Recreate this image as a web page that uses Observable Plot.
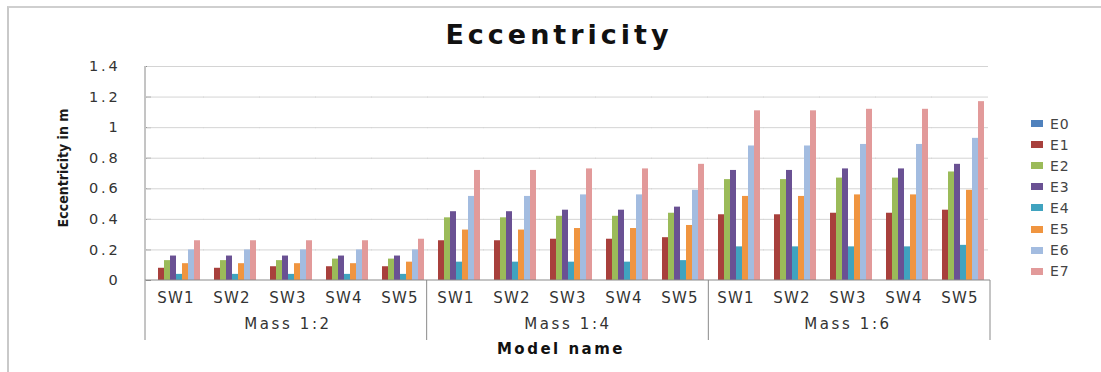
<!DOCTYPE html>
<html>
<head>
<meta charset="utf-8">
<script src="https://cdn.jsdelivr.net/npm/d3@7"></script>
<script src="https://cdn.jsdelivr.net/npm/@observablehq/plot@0.6"></script>
<style>
  body { margin: 0; background: #fff; }
  #wrap { position: relative; width: 1101px; height: 372px; overflow: hidden; font-family: "DejaVu Sans", sans-serif; }
  #border { position: absolute; left: 7px; top: 6px; width: 1200px; height: 400px; border-left: 2px solid #c9c9c9; border-top: 2px solid #cfcfcf; }
  #title { position: absolute; top: 19px; left: 0; width: 1118px; text-align: center; font: bold 27px "DejaVu Sans", sans-serif; letter-spacing: 4px; color: #111; }
  #ylabel { position: absolute; left: 63px; top: 168px; transform: translate(-50%, -50%) rotate(-90deg); white-space: nowrap; font: 600 14px "DejaVu Sans Condensed", "DejaVu Sans", sans-serif; font-stretch: condensed; color: #1a1a1a; }
  #xlabel { position: absolute; top: 340px; left: 0; width: 1122px; text-align: center; font: bold 15px "DejaVu Sans", sans-serif; letter-spacing: 2.5px; color: #111; }
  #chart { position: absolute; left: 0; top: 0; }
  #legend { position: absolute; left: 1031px; top: 113px; }
  .item { display: flex; align-items: center; height: 21.1px; font: 14px "DejaVu Sans", sans-serif; color: #444; letter-spacing: 1px; }
  .sw { width: 12px; height: 7px; margin-right: 7px; }
  #chart svg [aria-label="y-axis tick label"] text { letter-spacing: 2.8px; }
  #chart svg [aria-label="fx-axis tick label"] text { letter-spacing: 1.2px; }
  #chart svg [aria-label="text"] text { letter-spacing: 2.6px; }
</style>
</head>
<body>
<div id="wrap">
  <div id="border"></div>
  <div id="title">Eccentricity</div>
  <div id="ylabel">Eccentricity in m</div>
  <div id="chart"></div>
  <div id="xlabel">Model name</div>
  <div id="legend"></div>
</div>
<script>
// Categories
const groups = ["Mass 1:2", "Mass 1:4", "Mass 1:6"];
const walls = ["SW1", "SW2", "SW3", "SW4", "SW5"];
const series = ["E0", "E1", "E2", "E3", "E4", "E5", "E6", "E7"];
const colors = ["#4F81BD", "#A8403C", "#9BBB59", "#6A5193", "#40A3BF", "#F09540", "#A3BCE0", "#E29A9A"];
const yTicks = [0, 0.2, 0.4, 0.6, 0.8, 1, 1.2, 1.4];

// Eccentricity (m) per series: SW1..SW5 for Mass 1:2, then Mass 1:4, then Mass 1:6
const e0 = [0, 0, 0, 0, 0,   0, 0, 0, 0, 0,   0, 0, 0, 0, 0];
const e1 = [0.08, 0.08, 0.09, 0.09, 0.09,   0.26, 0.26, 0.27, 0.27, 0.28,   0.43, 0.43, 0.44, 0.44, 0.46];
const e2 = [0.13, 0.13, 0.13, 0.14, 0.14,   0.41, 0.41, 0.42, 0.42, 0.44,   0.66, 0.66, 0.67, 0.67, 0.71];
const e3 = [0.16, 0.16, 0.16, 0.16, 0.16,   0.45, 0.45, 0.46, 0.46, 0.48,   0.72, 0.72, 0.73, 0.73, 0.76];
const e4 = [0.04, 0.04, 0.04, 0.04, 0.04,   0.12, 0.12, 0.12, 0.12, 0.13,   0.22, 0.22, 0.22, 0.22, 0.23];
const e5 = [0.11, 0.11, 0.11, 0.11, 0.12,   0.33, 0.33, 0.34, 0.34, 0.36,   0.55, 0.55, 0.56, 0.56, 0.59];
const e6 = [0.20, 0.20, 0.20, 0.20, 0.20,   0.55, 0.55, 0.56, 0.56, 0.59,   0.88, 0.88, 0.89, 0.89, 0.93];
const e7 = [0.26, 0.26, 0.26, 0.26, 0.27,   0.72, 0.72, 0.73, 0.73, 0.76,   1.11, 1.11, 1.12, 1.12, 1.17];
const values = [e0, e1, e2, e3, e4, e5, e6, e7];

// One facet per (group, wall) model
const keys = groups.flatMap(g => walls.map(w => `${g}|${w}`));
const rows = [];
keys.forEach((k, i) => series.forEach((s, j) => rows.push({key: k, series: s, value: values[j][i]})));
const groupLabels = groups.map(g => ({key: `${g}|SW3`, label: g}));

const chart = Plot.plot({
  width: 1101,
  height: 372,
  marginTop: 66,
  marginBottom: 92,
  marginLeft: 145,
  marginRight: 111,
  style: {fontFamily: "DejaVu Sans, sans-serif", fontSize: "13px", color: "#333", background: "transparent", overflow: "visible"},
  fx: {domain: keys, paddingInner: 0.13, paddingOuter: 0.065, axis: "bottom", tickFormat: k => k.split("|")[1], tickSize: 0, tickPadding: 12, label: null},
  x: {domain: series, padding: 0, axis: null},
  y: {domain: [0, 1.4], ticks: yTicks, tickFormat: d => String(+d.toFixed(1)), tickSize: 5, tickPadding: 26, label: null},
  color: {domain: series, range: colors},
  marks: [
    Plot.ruleY(yTicks.filter(d => d > 0), {stroke: "#d4d4d4", insetLeft: -4, insetRight: -4}),
    Plot.barY(rows, {fx: "key", x: "series", y: "value", fill: "series"}),
    Plot.text(groupLabels, {fx: "key", text: "label", frameAnchor: "bottom", dy: 48, fontSize: 15, fill: "#333"})
  ]
});
document.getElementById("chart").append(chart);

// Axis lines and group separators, placed with the plot's own scales
const svg = d3.select(chart.tagName === "svg" ? chart : chart.querySelector("svg"));
svg.selectAll('[aria-label="fx-axis tick label"]').attr("font-size", 15);
svg.selectAll('[aria-label="y-axis tick label"]').attr("font-size", 14.5);
const fxs = chart.scale("fx");
const ys = chart.scale("y");
const fx = d3.scaleBand().domain(fxs.domain).range(fxs.range).paddingInner(fxs.paddingInner).paddingOuter(fxs.paddingOuter).align(fxs.align ?? 0.5);
const y = ys.apply ? ys.apply : d3.scaleLinear(ys.domain, ys.range);
const half = fx.step() * fx.paddingInner() / 2;
const left = fx(keys[0]) - half;
const right = fx(keys[keys.length - 1]) + fx.bandwidth() + half;
const y0 = y(0), yTop = y(1.4);
const g = svg.append("g").attr("stroke", "#8a8a8a").attr("stroke-width", 1);
g.append("line").attr("x1", left).attr("x2", left).attr("y1", yTop).attr("y2", y0 + 60);
g.append("line").attr("x1", left).attr("x2", right).attr("y1", y0).attr("y2", y0);
groups.forEach((grp, i) => {
  const xe = fx(`${grp}|SW5`) + fx.bandwidth() + half;
  g.append("line").attr("x1", xe).attr("x2", xe).attr("y1", y0).attr("y2", y0 + 60);
});
svg.selectAll('[aria-label="y-axis tick"] path, [aria-label="y-axis tick"] line').attr("stroke", "#8a8a8a");

// Legend built from the same series and colours
const legend = d3.select("#legend");
series.forEach((s, i) => {
  const row = legend.append("div").attr("class", "item");
  row.append("div").attr("class", "sw").style("background", colors[i]);
  row.append("span").text(s);
});
</script>
</body>
</html>
